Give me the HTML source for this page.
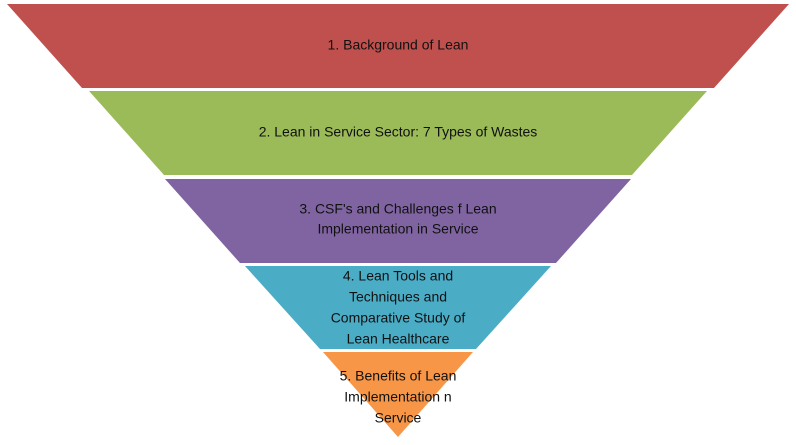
<!DOCTYPE html>
<html><head><style>
body{margin:0;width:796px;height:440px;background:#fff;overflow:hidden}
svg text{font-family:"Liberation Sans",sans-serif;font-size:14px;fill:#111;text-anchor:middle;dominant-baseline:middle}
</style></head><body>
<svg width="796" height="440" xmlns="http://www.w3.org/2000/svg">
<polygon points="7,4 789,4 714,88 82,88" fill="#C0504D"/>
<polygon points="89,91 707,91 632,175 164,175" fill="#9BBB59"/>
<polygon points="165,179 631,179 556,263 240,263" fill="#8064A2"/>
<polygon points="245,266 551,266 476,349 320,349" fill="#4BACC6"/>
<polygon points="323,352 473,352 398,437" fill="#F79646"/>
<text x="398" y="46">1. Background of Lean</text>
<text x="398" y="133">2. Lean in Service Sector: 7 Types of Wastes</text>
<text x="398" y="210">3. CSF's and Challenges f Lean</text>
<text x="398" y="230">Implementation in Service</text>
<text x="398" y="277">4. Lean Tools and</text>
<text x="398" y="298">Techniques and</text>
<text x="398" y="319">Comparative Study of</text>
<text x="398" y="340">Lean Healthcare</text>
<text x="398" y="377">5. Benefits of Lean</text>
<text x="398" y="398">Implementation n</text>
<text x="398" y="419">Service</text>
</svg>
</body></html>
